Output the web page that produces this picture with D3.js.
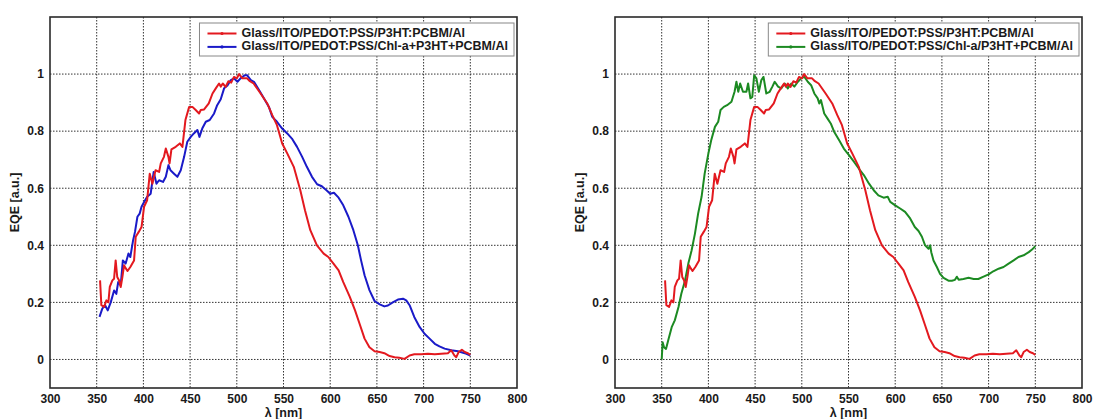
<!DOCTYPE html>
<html><head><meta charset="utf-8">
<script src="https://cdn.jsdelivr.net/npm/d3@7"></script>
<style>
body{margin:0;background:#fff}
svg{display:block}
text{font-family:"Liberation Sans",Arial,Helvetica,sans-serif;font-weight:bold;fill:#1a1a1a}
</style>
</head><body>
<svg id="chart" width="1094" height="419"></svg>
<script>
const xTicks = [300,350,400,450,500,550,600,650,700,750,800];
const yTicks = [0,0.2,0.4,0.6,0.8,1];
const xTitle = "λ [nm]";
const yTitle = "EQE [a.u.]";
const nameRef = "Glass/ITO/PEDOT:PSS/P3HT:PCBM/Al";
const nameBlend = "Glass/ITO/PEDOT:PSS/Chl-a+P3HT+PCBM/Al";
const nameLayer = "Glass/ITO/PEDOT:PSS/Chl-a/P3HT+PCBM/Al";

// Reference device (red) [nm, EQE]
const refData = [
[353.6,0.277],[355,0.19],[357.9,0.184],[360.4,0.207],[362.5,0.20],[364,0.254],[366.8,0.277],[368.6,0.283],
[370.3,0.347],[372,0.289],[374,0.277],[375.7,0.254],[377.5,0.289],[379.3,0.33],[381,0.32],[383,0.31],
[386,0.324],[390,0.347],[391.8,0.43],[395,0.447],[398,0.464],[400.7,0.535],[404,0.558],[406.8,0.651],
[409.6,0.616],[413,0.663],[416.8,0.657],[418.6,0.687],[422,0.71],[424,0.739],[426.8,0.71],[428,0.687],
[430,0.736],[434.6,0.745],[439,0.757],[441.8,0.745],[445,0.839],[449,0.885],[452.5,0.885],[456,0.874],
[459.6,0.862],[461.4,0.874],[465,0.876],[470,0.897],[474,0.932],[477.5,0.95],[481,0.967],[482.8,0.956],
[485,0.967],[488,0.955],[491,0.975],[494,0.97],[497,0.99],[500,0.985],[502.5,1.0],[506,0.985],[511,0.985],
[514,0.975],[518,0.967],[525.5,0.932],[532.6,0.897],[538,0.856],[543,0.821],[548.6,0.757],[554,0.722],
[561,0.675],[568,0.593],[573,0.523],[578.7,0.453],[585.8,0.40],[593,0.371],[598,0.359],[603.5,0.336],
[609,0.312],[614,0.271],[621,0.219],[626.6,0.172],[632,0.12],[636.8,0.073],[642,0.043],[647.5,0.029],
[653,0.026],[658,0.022],[663.6,0.012],[669,0.008],[674,0.006],[679.6,0.002],[685,0.014],[690,0.018],
[697.5,0.018],[704.6,0.02],[712,0.018],[719,0.02],[726,0.022],[729.6,0.032],[733,0.014],[735,0.008],
[737.5,0.026],[741,0.034],[744,0.026],[747.5,0.022],[750,0.016]
];

// Chl-a blended device (blue)
const blendData = [
[353,0.149],[356,0.178],[359,0.19],[361.8,0.172],[365,0.20],[368.6,0.242],[371,0.23],[373,0.271],
[375.7,0.26],[378,0.347],[381,0.336],[384,0.371],[386,0.359],[389,0.418],[391,0.447],[393.6,0.50],
[396,0.511],[398,0.535],[401.8,0.558],[404,0.57],[407.8,0.581],[411,0.657],[414,0.616],[416.8,0.628],
[421,0.622],[424,0.64],[426.8,0.681],[429,0.663],[432.8,0.651],[436.4,0.64],[440,0.663],[443.6,0.71],
[447,0.763],[450.7,0.78],[454,0.792],[457.8,0.804],[460,0.78],[463,0.809],[466.8,0.833],[471,0.839],
[475.7,0.862],[479,0.891],[482.8,0.912],[486.4,0.95],[490,0.96],[493.6,0.979],[497,0.985],[500.7,0.973],
[504,0.985],[508.5,0.996],[511,0.996],[515,0.979],[518.4,0.973],[523.8,0.944],[529,0.915],[534.4,0.885],
[538,0.85],[543,0.833],[548.6,0.809],[554,0.792],[559,0.774],[564.5,0.745],[570,0.71],[575,0.675],
[580.5,0.64],[586,0.614],[591,0.607],[596,0.593],[600,0.581],[604,0.584],[609,0.567],[614,0.54],
[619.5,0.50],[624.8,0.453],[629.6,0.40],[633,0.348],[636.8,0.295],[642,0.243],[647.5,0.205],[653,0.193],
[658,0.186],[661.8,0.189],[667,0.20],[672.5,0.21],[678,0.213],[681.4,0.207],[685,0.19],[690,0.149],
[695.7,0.114],[701,0.09],[706.4,0.073],[712,0.055],[717,0.046],[722.5,0.038],[729.6,0.032],[736.8,0.029],
[744,0.022],[750,0.014]
];

// Chl-a interlayer device (green)
const layerData = [
[350,0.0],[351,0.06],[352.5,0.043],[354.6,0.037],[357,0.067],[360.7,0.113],[364,0.137],[368,0.184],
[371,0.23],[375,0.277],[378.5,0.336],[382,0.382],[385.6,0.441],[389,0.511],[392.7,0.57],[396,0.651],
[400,0.722],[403,0.768],[407,0.815],[410.5,0.833],[413,0.874],[416.5,0.885],[420,0.891],[424.7,0.903],
[428,0.938],[430,0.973],[432,0.938],[434,0.967],[437,0.938],[440.7,0.938],[442.5,0.967],[445,0.915],
[447,0.92],[449,0.996],[451.4,0.985],[454,0.938],[456.7,0.979],[459,0.99],[462,0.932],[465.6,0.938],
[468.5,0.956],[471,0.973],[474.6,0.956],[478,0.95],[481.7,0.967],[485,0.95],[488.7,0.967],[492,0.956],
[495.8,0.973],[499.3,0.985],[502.8,0.99],[506.4,0.973],[510,0.961],[513.4,0.932],[517,0.915],[518.7,0.897],
[520.5,0.909],[524,0.862],[527.6,0.844],[531,0.827],[534.6,0.798],[540,0.768],[545,0.739],[550.5,0.716],
[556,0.692],[561,0.669],[566.4,0.646],[572,0.616],[577,0.593],[582,0.575],[587.6,0.567],[592,0.57],
[594.7,0.552],[600,0.54],[605.3,0.529],[610.6,0.517],[616,0.494],[621,0.464],[625,0.45],[628.6,0.43],
[632,0.40],[635.7,0.388],[637.5,0.40],[638.6,0.376],[641,0.347],[644.6,0.324],[648,0.30],[651.8,0.286],
[657,0.276],[660.7,0.276],[664,0.279],[666,0.29],[668,0.279],[673,0.282],[678.6,0.286],[684,0.282],
[689,0.282],[694.6,0.29],[700,0.298],[705,0.309],[710.7,0.318],[716,0.324],[721,0.335],[726.8,0.347],
[732,0.359],[737.5,0.365],[743,0.376],[746.5,0.385],[750,0.397]
];

const colRef = "#e3191f", colBlend = "#1a1ac8", colLayer = "#1c8a22";

const svg = d3.select("#chart");
const plotTop = 17, plotBottom = 388;

function panel(x0, x1, series) {
  const x = d3.scaleLinear().domain([300,800]).range([x0,x1]);
  const y = d3.scaleLinear().domain([-0.1,1.2]).range([plotBottom,plotTop]);
  const g = svg.append("g");
  // grid
  g.append("g").selectAll("line").data(xTicks.slice(1,-1)).join("line")
    .attr("x1",d=>x(d)).attr("x2",d=>x(d)).attr("y1",plotTop).attr("y2",plotBottom)
    .attr("stroke","#333").attr("stroke-width",1).attr("stroke-dasharray","1.5,1.5");
  g.append("g").selectAll("line").data(yTicks).join("line")
    .attr("x1",x0).attr("x2",x1).attr("y1",d=>y(d)).attr("y2",d=>y(d))
    .attr("stroke","#333").attr("stroke-width",1).attr("stroke-dasharray","1.5,1.5");
  // axes labels
  const xa = d3.axisBottom(x).tickValues(xTicks).tickSize(0).tickPadding(6).tickFormat(d3.format("d"));
  const xg = g.append("g").attr("transform",`translate(0,${plotBottom})`).call(xa);
  const ya = d3.axisLeft(y).tickValues(yTicks).tickSize(0).tickPadding(6).tickFormat(d=>d===0?"0":d===1?"1":d3.format(".1f")(d));
  const yg = g.append("g").attr("transform",`translate(${x0},0)`).call(ya);
  [xg,yg].forEach(a=>{a.select(".domain").remove();
    a.selectAll("text").style("font-family",'"Liberation Sans",Arial,sans-serif').style("font-weight","bold").style("font-size","12px").attr("fill","#1a1a1a");});
  // lines
  const line = d3.line().x(d=>x(d[0])).y(d=>y(d[1]));
  series.slice().reverse().forEach(s=>{
    g.append("path").datum(s.data).attr("d",line).attr("fill","none")
      .attr("stroke",s.color).attr("stroke-width",2).attr("stroke-linejoin","round");
  });
  // frame
  g.append("rect").attr("x",x0).attr("y",plotTop).attr("width",x1-x0).attr("height",plotBottom-plotTop)
    .attr("fill","none").attr("stroke","#2a2a2a").attr("stroke-width",1.6);
  // titles
  g.append("text").attr("x",(x0+x1)/2).attr("y",417).attr("text-anchor","middle")
    .style("font-size","12.5px").text(xTitle);
  g.append("text").attr("transform",`translate(${x0-34},${(plotTop+plotBottom)/2}) rotate(-90)`)
    .attr("text-anchor","middle").attr("dominant-baseline","middle").style("font-size","12.5px").text(yTitle);
  // legend
  const lg = g.append("g");
  const texts = series.map((s,i)=>lg.append("text").attr("y",33.5+i*13.4).attr("dominant-baseline","middle")
    .style("font-size","12.5px").text(s.name));
  const tw = d3.max(texts,t=>t.node().getComputedTextLength());
  const bx1 = x1-3, bx0 = bx1 - (tw + 48);
  lg.insert("rect","text").attr("x",bx0).attr("y",23).attr("width",bx1-bx0).attr("height",33)
    .attr("fill","#fff").attr("stroke","#888").attr("stroke-width",1);
  texts.forEach(t=>t.attr("x",bx0+42));
  series.forEach((s,i)=>{
    const yy = 33.5+i*13.4;
    lg.append("line").attr("x1",bx0+8).attr("x2",bx0+37).attr("y1",yy).attr("y2",yy)
      .attr("stroke",s.color).attr("stroke-width",2);
    lg.append("circle").attr("cx",bx0+22.5).attr("cy",yy).attr("r",1.6).attr("fill",s.color);
  });
}

panel(50, 517, [
  {name:nameRef, color:colRef, data:refData},
  {name:nameBlend, color:colBlend, data:blendData}
]);
panel(615, 1082, [
  {name:nameRef, color:colRef, data:refData},
  {name:nameLayer, color:colLayer, data:layerData}
]);
</script>
</body></html>
